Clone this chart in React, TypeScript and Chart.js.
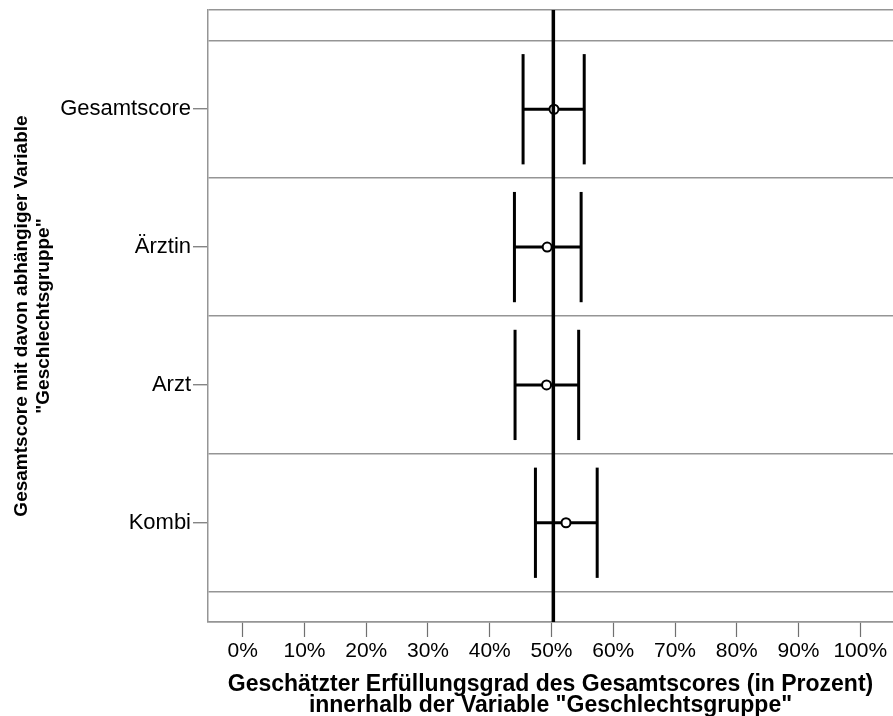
import React, { useEffect, useRef } from 'react';
import { Chart, registerables } from 'chart.js';

Chart.register(...registerables);

// ---- data ----
const categories = ['Gesamtscore', 'Ärztin', 'Arzt', 'Kombi'];
const means = [50.4, 49.3, 49.2, 52.35];
const lowerCI = [45.4, 44.0, 44.1, 47.4];
const upperCI = [55.3, 54.8, 54.4, 57.4];
const referenceValue = 50.3;
const xTickValues = [0, 10, 20, 30, 40, 50, 60, 70, 80, 90, 100];
const xTitle = ['Geschätzter Erfüllungsgrad des Gesamtscores (in Prozent)', 'innerhalb der Variable "Geschlechtsgruppe"'];
const yTitle = ['Gesamtscore mit davon abhängiger Variable', '"Geschlechtsgruppe"'];

// ---- layout constants ----
const X_MIN = -5.62;
const X_MAX = 105.3;
const Y_MIN = 0.28;
const Y_MAX = 4.72;
const CAP_HALF = 0.4;
const FONT = '"Liberation Sans", Arial, Helvetica, sans-serif';
const GRAY = '#959595';
const TICK_GRAY = '#707070';

const catValue = (i: number) => categories.length - i;
const isInt = (v: number) => Math.abs(v - Math.round(v)) < 1e-6;

export default function App() {
  const ref = useRef<HTMLCanvasElement | null>(null);

  useEffect(() => {
    if (!ref.current) return;

    const yTickValues: number[] = [Y_MIN];
    for (let k = 0; k <= categories.length; k++) {
      yTickValues.push(k + 0.5);
      if (k + 1 <= categories.length) yTickValues.push(k + 1);
    }
    yTickValues.push(Y_MAX);
    yTickValues.sort((a, b) => a - b);

    const datasets: any[] = [];
    datasets.push({
      label: 'ref',
      data: [{ x: referenceValue, y: Y_MIN }, { x: referenceValue, y: Y_MAX }],
      showLine: true,
      borderColor: '#000',
      borderWidth: 3.5,
      pointRadius: 0,
      order: 0,
    });
    datasets.push({
      label: 'means',
      data: means.map((m, i) => ({ x: m, y: catValue(i) })),
      showLine: false,
      pointStyle: 'circle',
      pointRadius: 4.5,
      pointBorderWidth: 2,
      pointBackgroundColor: '#fff',
      pointBorderColor: '#000',
      order: 1,
    });
    categories.forEach((c, i) => {
      const y = catValue(i);
      const common = { showLine: true, borderColor: '#000', borderWidth: 3, pointRadius: 0, order: 2, borderCapStyle: 'butt' };
      datasets.push({ label: c + ' ci', data: [{ x: lowerCI[i], y }, { x: upperCI[i], y }], ...common });
      datasets.push({ label: c + ' lo', data: [{ x: lowerCI[i], y: y - CAP_HALF }, { x: lowerCI[i], y: y + CAP_HALF }], ...common });
      datasets.push({ label: c + ' hi', data: [{ x: upperCI[i], y: y - CAP_HALF }, { x: upperCI[i], y: y + CAP_HALF }], ...common });
    });

    const chart = new Chart(ref.current, {
      type: 'scatter',
      data: { datasets },
      options: {
        animation: false,
        responsive: true,
        maintainAspectRatio: false,
        events: [],
        layout: { autoPadding: false, padding: { top: 10, left: 0, right: 0, bottom: 0 } },
        plugins: { legend: { display: false }, tooltip: { enabled: false } },
        scales: {
          x: {
            type: 'linear',
            position: 'bottom',
            min: X_MIN,
            max: X_MAX,
            afterBuildTicks: (s: any) => {
              s.ticks = xTickValues.map((v) => ({ value: v }));
            },
            afterFit: (s: any) => {
              s.height = 94;
              s.paddingLeft = 0;
              s.paddingRight = 0;
            },
            ticks: {
              callback: (v: any) => `${v}%`,
              padding: 2,
              color: '#000',
              maxRotation: 0,
              autoSkip: false,
              font: { family: FONT, size: 21 },
            },
            grid: {
              drawOnChartArea: false,
              tickLength: 15,
              tickColor: TICK_GRAY,
              tickWidth: 1.2,
            },
            border: { color: GRAY, width: 1.5 },
            title: {
              display: true,
              text: xTitle,
              color: '#000',
              font: { family: FONT, size: 23, weight: 'bold', lineHeight: 0.9 },
              padding: { top: 0, bottom: 0 },
            },
          },
          y: {
            type: 'linear',
            min: Y_MIN,
            max: Y_MAX,
            afterBuildTicks: (s: any) => {
              s.ticks = yTickValues.map((v) => ({ value: v }));
            },
            afterFit: (s: any) => {
              s.width = 208;
              s.paddingTop = 0;
              s.paddingBottom = 0;
            },
            ticks: {
              callback: (v: any) => {
                const n = Number(v);
                if (isInt(n) && n >= 1 && n <= categories.length) return categories[categories.length - Math.round(n)];
                return '';
              },
              padding: 2,
              color: '#000',
              autoSkip: false,
              font: { family: FONT, size: 22 },
            },
            grid: {
              drawOnChartArea: true,
              tickLength: 15,
              lineWidth: 1.5,
              tickWidth: 1.2,
              color: (ctx: any) => {
                const v = ctx.tick ? ctx.tick.value : 0;
                return isInt(v) ? 'transparent' : GRAY;
              },
              tickColor: (ctx: any) => {
                const v = ctx.tick ? ctx.tick.value : 0;
                return isInt(v) ? TICK_GRAY : 'transparent';
              },
            },
            border: { color: GRAY, width: 1.5 },
            title: {
              display: true,
              text: yTitle,
              color: '#000',
              font: { family: FONT, size: 19, weight: 'bold', lineHeight: 1.15 },
              padding: { top: 11, bottom: 0 },
            },
          },
        },
      } as any,
    });

    return () => chart.destroy();
  }, []);

  return (
    <div style={{ position: 'fixed', left: 0, top: 0, width: 893, height: 716, background: '#fff' }}>
      <canvas ref={ref} />
    </div>
  );
}
